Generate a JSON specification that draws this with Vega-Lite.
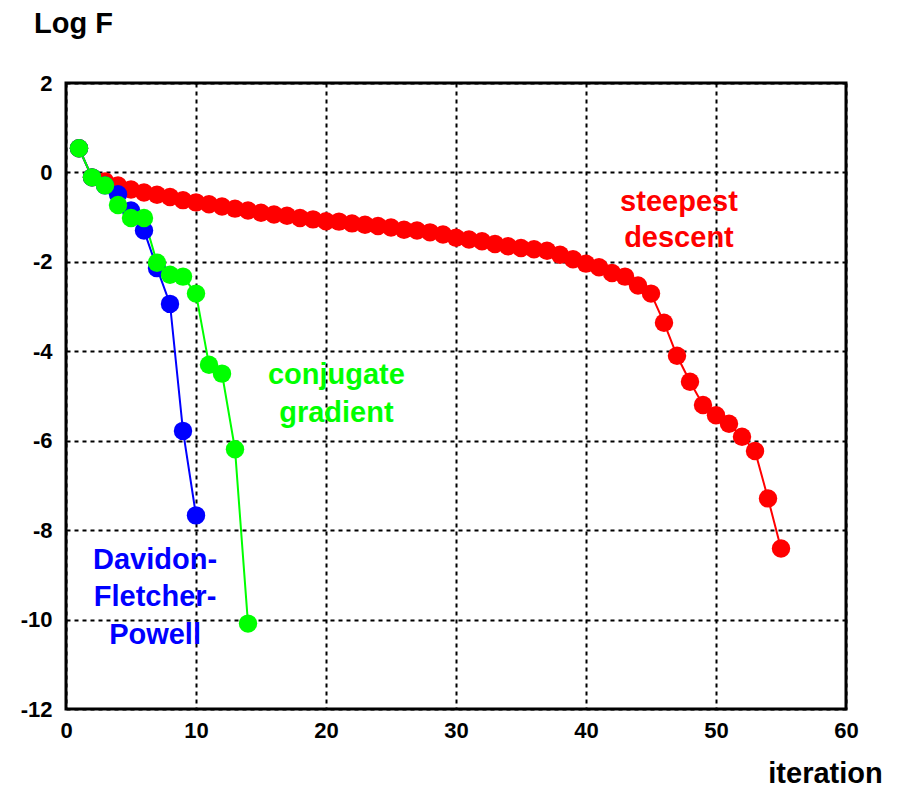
{
  "$schema": "https://vega.github.io/schema/vega-lite/v6.json",
  "autosize": "none",
  "width": 780,
  "height": 626,
  "padding": {"left": 66, "top": 83, "right": 56, "bottom": 80},
  "background": "white",
  "config": {
    "font": "Liberation Sans",
    "view": {"stroke": "black", "strokeWidth": 3},
    "axis": {
      "domain": false,
      "ticks": false,
      "tickSize": 0,
      "grid": true,
      "gridColor": "black",
      "gridOpacity": 1,
      "gridDash": [4, 4],
      "gridWidth": 2,
      "labelFont": "Liberation Sans",
      "labelFontWeight": "bold",
      "labelFontSize": 22,
      "labelColor": "black",
      "labelFlush": false,
      "labelOverlap": false,
      "titleFont": "Liberation Sans",
      "titleFontWeight": "bold",
      "titleFontSize": 29,
      "titleColor": "black"
    }
  },
  "datasets": {
    "series": [
      {"series": "steepest", "iteration": 1, "logF": 0.54},
      {"series": "steepest", "iteration": 2, "logF": -0.11},
      {"series": "steepest", "iteration": 3, "logF": -0.2},
      {"series": "steepest", "iteration": 4, "logF": -0.29},
      {"series": "steepest", "iteration": 5, "logF": -0.38},
      {"series": "steepest", "iteration": 6, "logF": -0.45},
      {"series": "steepest", "iteration": 7, "logF": -0.5},
      {"series": "steepest", "iteration": 8, "logF": -0.55},
      {"series": "steepest", "iteration": 9, "logF": -0.62},
      {"series": "steepest", "iteration": 10, "logF": -0.67},
      {"series": "steepest", "iteration": 11, "logF": -0.71},
      {"series": "steepest", "iteration": 12, "logF": -0.76},
      {"series": "steepest", "iteration": 13, "logF": -0.81},
      {"series": "steepest", "iteration": 14, "logF": -0.85},
      {"series": "steepest", "iteration": 15, "logF": -0.9},
      {"series": "steepest", "iteration": 16, "logF": -0.94},
      {"series": "steepest", "iteration": 17, "logF": -0.97},
      {"series": "steepest", "iteration": 18, "logF": -1.02},
      {"series": "steepest", "iteration": 19, "logF": -1.05},
      {"series": "steepest", "iteration": 20, "logF": -1.09},
      {"series": "steepest", "iteration": 21, "logF": -1.1},
      {"series": "steepest", "iteration": 22, "logF": -1.14},
      {"series": "steepest", "iteration": 23, "logF": -1.17},
      {"series": "steepest", "iteration": 24, "logF": -1.2},
      {"series": "steepest", "iteration": 25, "logF": -1.23},
      {"series": "steepest", "iteration": 26, "logF": -1.28},
      {"series": "steepest", "iteration": 27, "logF": -1.3},
      {"series": "steepest", "iteration": 28, "logF": -1.34},
      {"series": "steepest", "iteration": 29, "logF": -1.39},
      {"series": "steepest", "iteration": 30, "logF": -1.46},
      {"series": "steepest", "iteration": 31, "logF": -1.5},
      {"series": "steepest", "iteration": 32, "logF": -1.54},
      {"series": "steepest", "iteration": 33, "logF": -1.6},
      {"series": "steepest", "iteration": 34, "logF": -1.65},
      {"series": "steepest", "iteration": 35, "logF": -1.69},
      {"series": "steepest", "iteration": 36, "logF": -1.72},
      {"series": "steepest", "iteration": 37, "logF": -1.75},
      {"series": "steepest", "iteration": 38, "logF": -1.84},
      {"series": "steepest", "iteration": 39, "logF": -1.94},
      {"series": "steepest", "iteration": 40, "logF": -2.04},
      {"series": "steepest", "iteration": 41, "logF": -2.12},
      {"series": "steepest", "iteration": 42, "logF": -2.25},
      {"series": "steepest", "iteration": 43, "logF": -2.33},
      {"series": "steepest", "iteration": 44, "logF": -2.53},
      {"series": "steepest", "iteration": 45, "logF": -2.71},
      {"series": "steepest", "iteration": 46, "logF": -3.36},
      {"series": "steepest", "iteration": 47, "logF": -4.1},
      {"series": "steepest", "iteration": 48, "logF": -4.68},
      {"series": "steepest", "iteration": 49, "logF": -5.2},
      {"series": "steepest", "iteration": 50, "logF": -5.43},
      {"series": "steepest", "iteration": 51, "logF": -5.62},
      {"series": "steepest", "iteration": 52, "logF": -5.91},
      {"series": "steepest", "iteration": 53, "logF": -6.23},
      {"series": "steepest", "iteration": 54, "logF": -7.29},
      {"series": "steepest", "iteration": 55, "logF": -8.41},
      {"series": "dfp", "iteration": 1, "logF": 0.54},
      {"series": "dfp", "iteration": 2, "logF": -0.11},
      {"series": "dfp", "iteration": 3, "logF": -0.29},
      {"series": "dfp", "iteration": 4, "logF": -0.49},
      {"series": "dfp", "iteration": 5, "logF": -0.85},
      {"series": "dfp", "iteration": 6, "logF": -1.3},
      {"series": "dfp", "iteration": 7, "logF": -2.14},
      {"series": "dfp", "iteration": 8, "logF": -2.94},
      {"series": "dfp", "iteration": 9, "logF": -5.78},
      {"series": "dfp", "iteration": 10, "logF": -7.67},
      {"series": "conjugate", "iteration": 1, "logF": 0.54},
      {"series": "conjugate", "iteration": 2, "logF": -0.11},
      {"series": "conjugate", "iteration": 3, "logF": -0.29},
      {"series": "conjugate", "iteration": 4, "logF": -0.73},
      {"series": "conjugate", "iteration": 5, "logF": -1.02},
      {"series": "conjugate", "iteration": 6, "logF": -1.02},
      {"series": "conjugate", "iteration": 7, "logF": -2.02},
      {"series": "conjugate", "iteration": 8, "logF": -2.29},
      {"series": "conjugate", "iteration": 9, "logF": -2.33},
      {"series": "conjugate", "iteration": 10, "logF": -2.71},
      {"series": "conjugate", "iteration": 11, "logF": -4.3},
      {"series": "conjugate", "iteration": 12, "logF": -4.5},
      {"series": "conjugate", "iteration": 13, "logF": -6.19},
      {"series": "conjugate", "iteration": 14, "logF": -10.09}
    ],
    "labels": [
      {"series": "steepest", "text": "steepest", "x": 47.15, "y": -0.87},
      {"series": "steepest", "text": "descent", "x": 47.15, "y": -1.66},
      {"series": "conjugate", "text": "conjugate", "x": 20.8, "y": -4.73},
      {"series": "conjugate", "text": "gradient", "x": 20.8, "y": -5.58},
      {"series": "dfp", "text": "Davidon-", "x": 6.85, "y": -8.86},
      {"series": "dfp", "text": "Fletcher-", "x": 6.85, "y": -9.69},
      {"series": "dfp", "text": "Powell", "x": 6.85, "y": -10.54}
    ]
  },
  "layer": [
    {
      "data": {"name": "series"},
      "mark": {"type": "line", "strokeWidth": 2},
      "encoding": {
        "x": {
          "field": "iteration", "type": "quantitative",
          "scale": {"domain": [0, 60], "nice": false, "zero": false},
          "axis": {
            "values": [0, 10, 20, 30, 40, 50, 60],
            "labelExpr": "'' + datum.value",
            "labelPadding": 11,
            "title": "iteration",
            "titleAnchor": null,
            "titleAlign": "center",
            "titleBaseline": "alphabetic",
            "titleX": 759,
            "titleY": 73
          }
        },
        "y": {
          "field": "logF", "type": "quantitative",
          "scale": {"domain": [-12, 2], "nice": false, "zero": false},
          "axis": {
            "values": [-12, -10, -8, -6, -4, -2, 0, 2],
            "labelExpr": "'' + datum.value",
            "labelPadding": 14,
            "title": "Log F",
            "titleAngle": 0,
            "titleAlign": "center",
            "titleBaseline": "alphabetic",
            "titleX": 7,
            "titleY": -51
          }
        },
        "color": {
          "field": "series", "type": "nominal",
          "scale": {"domain": ["steepest", "dfp", "conjugate"], "range": ["#ff0000", "#0000ff", "#00ff00"]},
          "legend": null
        },
        "order": {"field": "iteration"}
      }
    },
    {
      "data": {"name": "series"},
      "mark": {"type": "point", "filled": true, "opacity": 1, "shape": "circle", "size": 340},
      "encoding": {
        "x": {"field": "iteration", "type": "quantitative"},
        "y": {"field": "logF", "type": "quantitative"},
        "color": {"field": "series", "type": "nominal", "legend": null}
      }
    },
    {
      "data": {"name": "labels"},
      "mark": {"type": "text", "font": "Liberation Sans", "fontWeight": "bold", "fontSize": 29, "align": "center", "baseline": "alphabetic"},
      "encoding": {
        "x": {"field": "x", "type": "quantitative"},
        "y": {"field": "y", "type": "quantitative"},
        "text": {"field": "text"},
        "color": {"field": "series", "type": "nominal", "legend": null}
      }
    }
  ]
}
